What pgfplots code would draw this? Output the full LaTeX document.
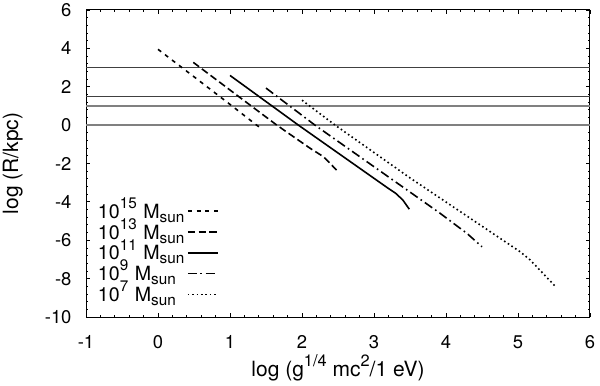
\documentclass[border=0pt]{standalone}
\usepackage{pgfplots}
\pgfplotsset{compat=1.18}
\usepackage{fontspec}
\setmainfont{TeX Gyre Heros}
\newcommand\sups[1]{\raisebox{0.5em}{\fontsize{0.78em}{0.85em}\selectfont #1}}
\newcommand\subs[1]{\raisebox{-0.2em}{\fontsize{0.78em}{0.85em}\selectfont #1}}
\begin{document}
\fontsize{9.2bp}{11bp}\selectfont
\begin{tikzpicture}
\path[use as bounding box] (-43bp,-34.5bp) rectangle (257bp,158.5bp);
\begin{axis}[
  at={(0,0)}, anchor=south west, scale only axis,
  width=252bp, height=153.5bp,
  xmin=-1, xmax=6, ymin=-10, ymax=6,
  xtick={-1,0,...,6}, ytick={-10,-8,...,6},
  minor x tick num=4, minor y tick num=4,
  tick align=inside, major tick length=2.2bp, minor tick length=1.1bp,
  axis line style={line width=0.5bp},
  every tick/.style={black, line width=0.4bp},
  /pgf/number format/assume math mode=true,
  xticklabel style={yshift=-6bp, font=\fontsize{9.2bp}{11bp}\selectfont},
  yticklabel style={xshift=-4bp, font=\fontsize{9.2bp}{11bp}\selectfont},
  xlabel={log (g\sups{1/4} mc\sups{2}/1 eV)},
  ylabel={log (R/kpc)},
  every axis x label/.style={at={(axis description cs:0.5,-0.1954)}, anchor=base, font=\fontsize{10.5bp}{12bp}\selectfont},
  every axis y label/.style={at={(axis description cs:-0.1349,0.5)}, rotate=90, anchor=base, font=\fontsize{10.5bp}{12bp}\selectfont},
  legend plot pos=right,
  legend image code/.code={\draw[#1] (0bp,3.5bp) -- (15bp,3.5bp);},
  legend style={draw=none, fill=none, inner sep=0pt, outer sep=0pt,
    at={(0.0238,0.3645)}, anchor=north west,
    row sep=0pt, column sep=0pt,
    cells={anchor=base west},
    nodes={inner sep=0pt, text height=6.6bp, text depth=3.8bp, text width=44.5bp, align=left,
      font=\fontsize{9.8bp}{11bp}\selectfont}},
]
% horizontal reference lines
\addplot[forget plot, black!75, line width=0.6bp] coordinates {(-1,3.02) (6,3.02)};
\addplot[forget plot, black!75, line width=0.6bp] coordinates {(-1,1.48) (6,1.48)};
\addplot[forget plot, black!50, line width=0.7bp] coordinates {(-1,1.0) (6,1.0)};
\addplot[forget plot, black!50, line width=0.7bp] coordinates {(-1,0) (6,0)};
% 10^15
\addplot[black, line width=0.8bp, dash pattern=on 2bp off 2.4bp] coordinates {
(0,3.95) (0.5,2.52) (1.0,1.08) (1.37,0) (1.45,-0.22)};
\addlegendentry{10\sups{15} M\subs{sun}}
% 10^13
\addplot[black, line width=0.8bp, dash pattern=on 3.6bp off 1.8bp] coordinates {
(0.49,3.27) (1.0,1.83) (1.65,0) (2.11,-1.2) (2.3,-1.65) (2.48,-2.34)};
\addlegendentry{10\sups{13} M\subs{sun}}
% 10^11
\addplot[black, line width=0.8bp] coordinates {
(1.0,2.59) (1.95,0) (3.2,-3.3) (3.3,-3.55) (3.4,-3.9) (3.49,-4.38)};
\addlegendentry{10\sups{11} M\subs{sun}}
% 10^9
\addplot[black, line width=0.8bp, dash pattern=on 4.5bp off 1.8bp on 0.8bp off 1.8bp] coordinates {
(1.5,1.93) (2.18,0) (3.92,-4.6) (4.29,-5.64) (4.5,-6.34)};
\addlegendentry{10\sups{9} M\subs{sun}}
% 10^7
\addplot[black, line width=0.8bp, dash pattern=on 0.8bp off 1.4bp] coordinates {
(2.0,1.3) (2.46,0) (3.5,-2.75) (5.03,-6.6) (5.17,-7.03) (5.51,-8.37)};
\addlegendentry{10\sups{7} M\subs{sun}}
\end{axis}
\end{tikzpicture}
\end{document}
